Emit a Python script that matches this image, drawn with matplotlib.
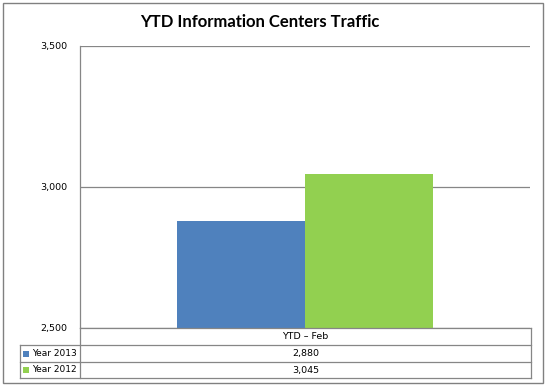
import matplotlib
matplotlib.use("Agg")
import matplotlib.pyplot as plt
from matplotlib.patches import Rectangle
from matplotlib.lines import Line2D

# ==========================================
# DATA
# ==========================================

title = "YTD Information Centers Traffic"
category = "YTD \u2013 Feb"
series_names = ["Year 2013", "Year 2012"]
series_values = [2880, 3045]
series_colors = ["#4F81BD", "#92D050"]
y_ticks = [2500, 3000, 3500]

# ==========================================
# FIGURE
# ==========================================

W, H = 547, 387
fig = plt.figure(figsize=(W / 100, H / 100), dpi=100)
fig.patch.set_facecolor("white")


def fx(px):
    return px / W


def fy(py):
    return 1 - py / H


# outer chart border
fig.add_artist(Rectangle((fx(3), fy(383)), fx(540), 380 / H, transform=fig.transFigure,
                         fill=False, edgecolor="#808080", linewidth=1.0))

fig.text(fx(260), fy(22), title, ha="center", va="center",
         fontsize=12, fontweight="bold", family="Lato")

# plot area
left, right, top, bottom = 80, 530, 46, 328
ax = fig.add_axes([fx(left), fy(bottom), fx(right - left), (bottom - top) / H])

bar_w = 0.285
offsets = [-bar_w / 2, bar_w / 2]
for name, val, col, off in zip(series_names, series_values, series_colors, offsets):
    ax.bar(off, val - y_ticks[0], bottom=y_ticks[0], width=bar_w, color=col,
           edgecolor="none", zorder=3)

ax.set_xlim(-0.5, 0.5)
ax.set_ylim(y_ticks[0], y_ticks[-1])
ax.set_yticks(y_ticks)
ax.set_yticklabels([f"{t:,}" for t in y_ticks], fontsize=6.8, family="DejaVu Sans")
ax.tick_params(axis="y", length=0, pad=9)
ax.set_xticks([])
ax.yaxis.grid(True, color="#868686", linewidth=0.9, zorder=0)
for s in ["top", "right", "bottom"]:
    ax.spines[s].set_visible(False)
ax.spines["left"].set_color("#868686")
ax.spines["left"].set_linewidth(0.9)

# ==========================================
# DATA TABLE
# ==========================================

rows_y = [328, 345, 362, 378]
tab_left, tab_mid, tab_right = 20, 80, 531
lc = "#868686"


def hline(x0, x1, y):
    fig.add_artist(Line2D([fx(x0), fx(x1)], [fy(y), fy(y)], transform=fig.transFigure,
                          color=lc, linewidth=0.9))


def vline(x, y0, y1):
    fig.add_artist(Line2D([fx(x), fx(x)], [fy(y0), fy(y1)], transform=fig.transFigure,
                          color=lc, linewidth=0.9))


hline(tab_mid, tab_right, rows_y[0])
for y in rows_y[1:]:
    hline(tab_left, tab_right, y)
vline(tab_left, rows_y[1], rows_y[3])
vline(tab_mid, rows_y[0], rows_y[3])
vline(tab_right, rows_y[0], rows_y[3])

center_x = (tab_mid + tab_right) / 2
fig.text(fx(center_x), fy((rows_y[0] + rows_y[1]) / 2), category, ha="center",
         va="center", fontsize=6.8, family="DejaVu Sans")

for i, (name, val, col) in enumerate(zip(series_names, series_values, series_colors)):
    yc = (rows_y[i + 1] + rows_y[i + 2]) / 2
    fig.add_artist(Rectangle((fx(23), fy(yc + 3)), fx(6), 6 / H, transform=fig.transFigure,
                             facecolor=col, edgecolor="none"))
    fig.text(fx(32), fy(yc), name, ha="left", va="center", fontsize=6.5,
             family="DejaVu Sans")
    fig.text(fx(center_x), fy(yc), f"{val:,}", ha="center", va="center",
             fontsize=6.8, family="DejaVu Sans")

fig.savefig("out.png", dpi=100, facecolor="white")
